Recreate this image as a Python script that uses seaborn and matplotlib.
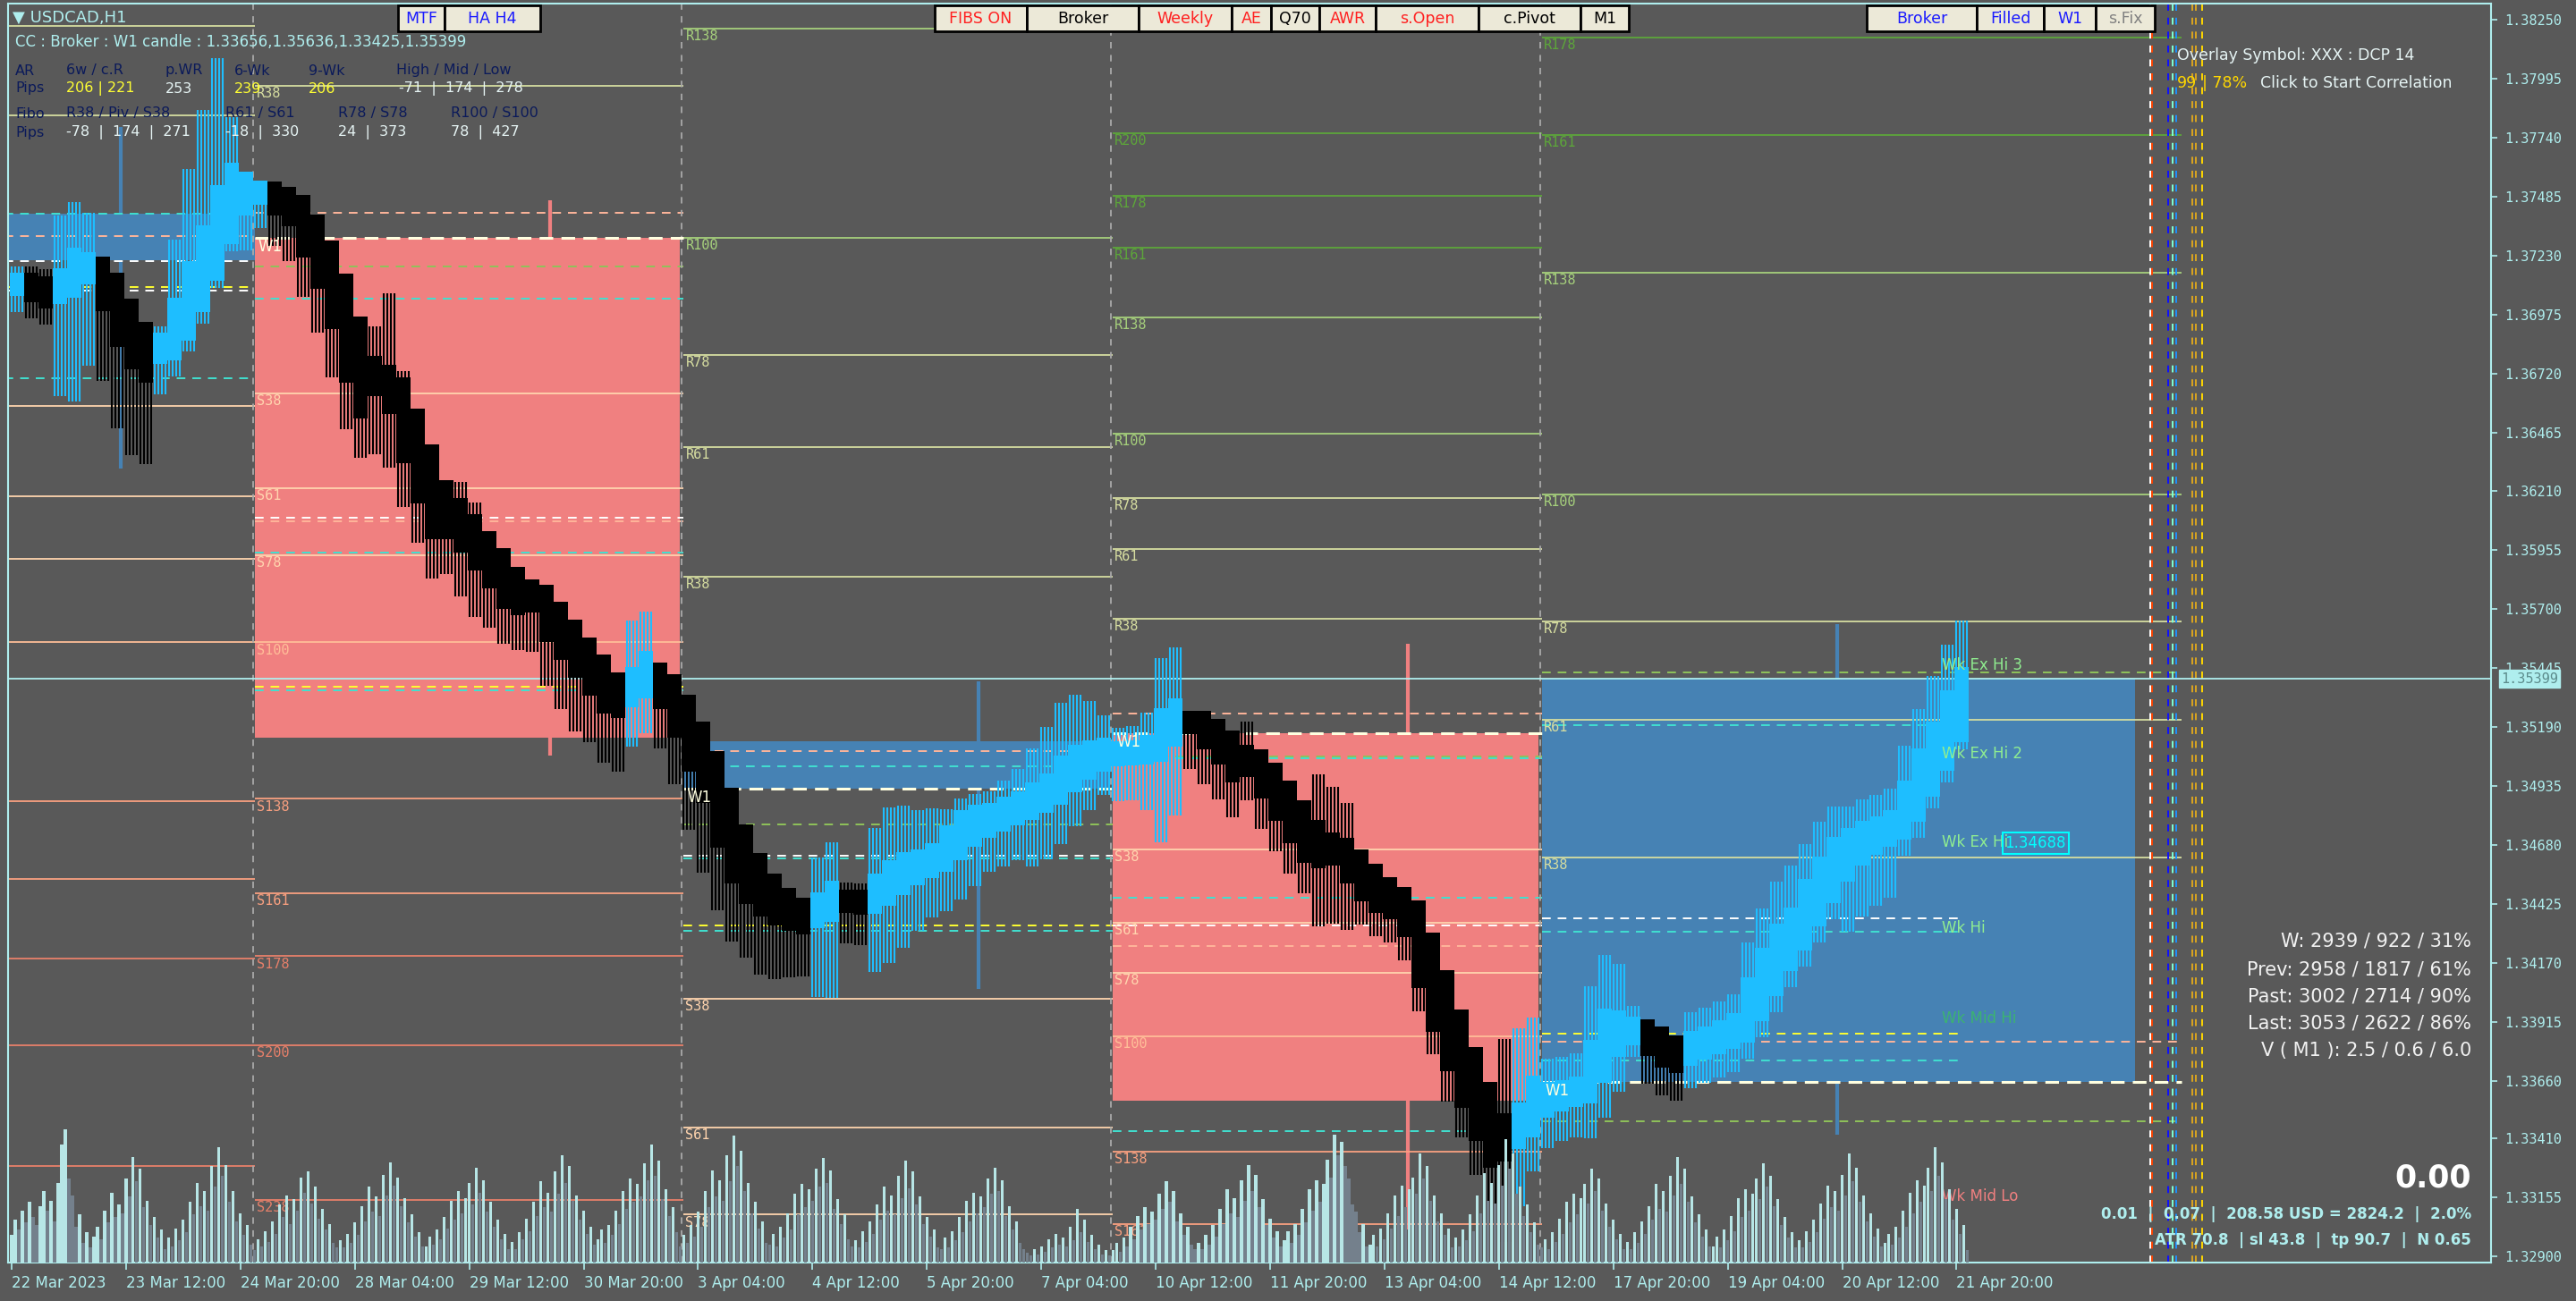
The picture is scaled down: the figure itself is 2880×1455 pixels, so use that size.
import numpy as np
import pandas as pd
import seaborn as sns
import matplotlib.pyplot as plt
import matplotlib.transforms as mtrans
from matplotlib.patches import Rectangle

W, H = 2880, 1455
BG = '#595959'
AXC = '#AFEEEE'
BULL = '#1EBEFF'
BEAR = '#000000'

# ---------------- data ----------------
# H4 closes (USDCAD), first bar 22 Mar 2023 04:00
close_pre = [1.37104, 1.37077, 1.37050, 1.37124, 1.37213, 1.37193, 1.37039, 1.36884, 1.36787,
             1.36729, 1.36845, 1.36999, 1.37155, 1.37309, 1.37484, 1.37580, 1.37542]
close_w1 = [1.37503, 1.37453, 1.37406, 1.37271, 1.37135, 1.36961, 1.36729, 1.36574, 1.36671, 1.36594,
            1.36381, 1.36207, 1.36052, 1.36052, 1.35994, 1.35916, 1.35839, 1.35750, 1.35723, 1.35734,
            1.35607, 1.35529, 1.35452, 1.35375, 1.35297, 1.35278, 1.35401, 1.35471, 1.35316, 1.35193]
close_w2 = [1.35046, 1.34910, 1.34717, 1.34562, 1.34473, 1.34419, 1.34380, 1.34357, 1.34341, 1.34426,
            1.34473, 1.34434, 1.34426, 1.34504, 1.34562, 1.34600, 1.34612, 1.34639, 1.34716, 1.34782,
            1.34802, 1.34813, 1.34840, 1.34860, 1.34899, 1.34941, 1.35015, 1.35061, 1.35084, 1.35092]
close_w3 = [1.35077, 1.35084, 1.35104, 1.35220, 1.35266, 1.35208, 1.35142, 1.35077, 1.34999, 1.35022,
            1.34930, 1.34833, 1.34736, 1.34651, 1.34628, 1.34639, 1.34562, 1.34484, 1.34434, 1.34407,
            1.34330, 1.34109, 1.33923, 1.33749, 1.33594, 1.33451, 1.33335, 1.33362, 1.33517, 1.33633]
close_w4 = [1.33606, 1.33614, 1.33629, 1.33788, 1.33923, 1.33915, 1.33885, 1.33815, 1.33768, 1.33745,
            1.33826, 1.33846, 1.33873, 1.33904, 1.34059, 1.34186, 1.34291, 1.34360, 1.34484, 1.34581,
            1.34666, 1.34705, 1.34736, 1.34755, 1.34782, 1.34910, 1.35046, 1.35162, 1.35297, 1.35399]

# wick extension beyond the body, in pips
wick_up = ([8, 8, 8, 28, 25, 22, 5, 5, 5, 5, 8, 30, 45, 55, 60, 25, 5]
           + [5, 5, 5, 5, 5, 5, 5, 5, 18, 36, 8, 5, 5, 5, 12, 10, 5, 5, 5, 5, 5, 5, 5, 5, 5, 5, 25, 22, 5, 5]
           + [5, 5, 5, 5, 5, 5, 5, 5, 5, 20, 22, 8, 8, 25, 28, 25, 22, 20, 12, 10, 10, 10, 12, 15, 20, 25, 28, 27, 22, 15]
           + [11, 11, 15, 27, 27, 5, 5, 5, 5, 15, 5, 5, 5, 5, 25, 25, 20, 5, 5, 5, 5, 5, 5, 5, 5, 5, 5, 37, 37, 30]
           + [15, 15, 15, 28, 28, 25, 10, 5, 5, 5, 13, 13, 13, 13, 20, 22, 23, 23, 20, 20, 18, 14, 14, 14, 14, 20, 22, 25, 25, 25])
wick_dn = ([12, 12, 12, 45, 50, 40, 35, 40, 42, 40, 18, 12, 10, 10, 8, 8, 20]
           + [15, 18, 20, 22, 24, 26, 25, 22, 30, 28, 24, 22, 22, 20, 24, 25, 22, 20, 20, 22, 24, 26, 28, 25, 26, 28, 22, 20, 22, 25]
           + [30, 35, 32, 30, 28, 30, 28, 25, 23, 35, 38, 18, 18, 30, 30, 28, 25, 22, 22, 22, 22, 20, 20, 20, 25, 25, 22, 20, 18, 15]
           + [20, 20, 25, 40, 35, 20, 20, 20, 20, 15, 18, 18, 18, 18, 30, 30, 25, 15, 15, 15, 15, 15, 15, 18, 18, 20, 30, 40, 30, 20]
           + [18, 18, 18, 20, 20, 20, 10, 17, 17, 17, 15, 15, 15, 15, 12, 12, 12, 12, 12, 12, 12, 27, 27, 27, 27, 12, 12, 10, 10, 8])

# hourly tick volume, one list per trading day
vol_days = [
    [20, 31, 24, 38, 29, 44, 33, 27, 41, 52, 38, 45, 30, 58, 86, 97, 61, 49, 26, 35],
    [14, 22, 11, 19, 26, 17, 38, 29, 51, 33, 42, 36, 61, 48, 77, 59, 68, 40, 45, 27, 33, 18, 24, 10],
    [18, 12, 25, 16, 31, 22, 44, 35, 58, 41, 52, 38, 70, 55, 84, 63, 71, 44, 52, 30, 36, 20, 27, 13],
    [9, 17, 12, 23, 15, 30, 21, 42, 33, 49, 28, 46, 38, 62, 51, 66, 43, 55, 32, 39, 24, 28, 14, 11],
    [16, 11, 21, 14, 29, 20, 41, 30, 55, 37, 48, 34, 64, 49, 73, 56, 62, 41, 47, 29, 35, 19, 22, 12],
    [12, 19, 13, 24, 17, 33, 25, 45, 31, 52, 36, 47, 58, 42, 69, 51, 60, 37, 44, 26, 31, 17, 21, 10],
    [15, 10, 22, 17, 32, 23, 44, 34, 59, 40, 51, 37, 66, 50, 78, 58, 70, 45, 49, 31, 38, 21, 26, 13],
    [17, 24, 14, 27, 20, 38, 28, 52, 39, 61, 44, 57, 48, 72, 60, 86, 63, 74, 46, 53, 34, 40, 22, 12],
    [20, 14, 27, 19, 37, 26, 52, 40, 67, 48, 60, 45, 78, 59, 92, 70, 81, 52, 58, 36, 44, 25, 30, 14],
    [13, 21, 12, 26, 18, 36, 24, 50, 35, 57, 40, 53, 45, 68, 55, 76, 58, 67, 39, 46, 28, 35, 17, 12],
    [16, 11, 23, 15, 30, 21, 42, 31, 55, 38, 49, 35, 63, 47, 74, 54, 66, 42, 48, 28, 33, 19, 24, 11],
    [10, 18, 11, 23, 16, 33, 22, 45, 30, 51, 36, 48, 40, 61, 50, 69, 52, 60, 34, 41, 24, 30, 14, 10],
    [7, 5, 10, 6, 12, 8, 17, 11, 21, 13, 18, 12, 26, 16, 39, 22, 31, 15, 20, 10, 13, 6, 9, 5],
    [9, 14, 8, 18, 12, 26, 17, 34, 24, 40, 28, 37, 31, 50, 39, 59, 44, 52, 30, 36, 20, 26, 13, 10],
    [14, 10, 20, 13, 27, 19, 39, 28, 53, 36, 47, 33, 60, 45, 71, 52, 64, 40, 46, 27, 32, 18, 23, 12],
    [16, 23, 14, 28, 20, 39, 29, 53, 38, 60, 44, 57, 75, 62, 93, 78, 88, 70, 61, 42, 37, 22, 28, 12],
    [13, 20, 12, 25, 17, 36, 25, 49, 34, 56, 40, 53, 62, 50, 79, 61, 70, 45, 49, 30, 36, 20, 25, 11],
    [18, 12, 24, 16, 35, 23, 49, 36, 65, 45, 58, 43, 71, 56, 90, 68, 79, 50, 55, 34, 42, 22, 29, 13],
    [11, 17, 10, 22, 15, 32, 21, 44, 29, 50, 35, 47, 57, 43, 68, 52, 61, 38, 43, 26, 31, 17, 21, 10],
    [15, 10, 22, 14, 30, 21, 41, 31, 57, 39, 52, 37, 63, 49, 77, 57, 68, 44, 48, 29, 35, 19, 24, 12],
    [12, 19, 11, 24, 16, 34, 23, 47, 33, 53, 38, 50, 61, 46, 72, 55, 63, 41, 46, 27, 33, 18, 22, 11],
    [16, 11, 23, 15, 31, 22, 43, 32, 56, 40, 52, 38, 64, 49, 79, 59, 69, 44, 49, 30, 36, 19, 25, 12],
    [14, 21, 13, 26, 18, 38, 26, 51, 36, 60, 44, 56, 69, 52, 84, 63, 73, 46, 53, 31, 39, 21, 27, 9],
]

time_labels = ['22 Mar 2023', '23 Mar 12:00', '24 Mar 20:00', '28 Mar 04:00', '29 Mar 12:00',
               '30 Mar 20:00', '3 Apr 04:00', '4 Apr 12:00', '5 Apr 20:00', '7 Apr 04:00',
               '10 Apr 12:00', '11 Apr 20:00', '13 Apr 04:00', '14 Apr 12:00', '17 Apr 20:00',
               '19 Apr 04:00', '20 Apr 12:00', '21 Apr 20:00']
price_ticks = [1.38250, 1.37995, 1.37740, 1.37485, 1.37230, 1.36975, 1.36720, 1.36465, 1.36210,
               1.35955, 1.35700, 1.35445, 1.35190, 1.34935, 1.34680, 1.34425, 1.34170, 1.33915,
               1.33660, 1.33410, 1.33155, 1.32900]
last_price = 1.35399

# weekly candles (bars from first H1 bar)
week_start = [-52, 68, 188, 308, 428]
week_box_end = [68, 187, 307, 427, 594]
week_box_lo = [1.37209, 1.35142, 1.34925, 1.33575, 1.33656]
week_box_hi = [1.37410, 1.37306, 1.35127, 1.35162, 1.35399]
week_bull = [True, False, True, False, True]
week_high = [1.37785, 1.37468, 1.35386, 1.35549, 1.35636]
week_low = [1.36307, 1.35065, 1.34055, 1.33017, 1.33425]
level_span = [(-2, 68), (68, 188), (188, 308), (308, 428), (428, 607)]

# fibo pivot levels per week
lv_pre = [1.38223, 1.37836, 1.36578, 1.36187, 1.35916, 1.35556, 1.34871, 1.34531, 1.34190, 1.33815, 1.33289]
lv_pre_names = ['R78', 'R38', 'S38', 'S61', 'S78', 'S100', 'S138', 'S161', 'S178', 'S200', 'S238']
lv_w1_names = ['R38', 'S38', 'S61', 'S78', 'S100', 'S138', 'S161', 'S178', 'S200', 'S238']
lv_w1 = [1.37963, 1.36632, 1.36222, 1.35932, 1.35556, 1.34879, 1.34469, 1.34198, 1.33815, 1.33145]
lv_w2_names = ['R138', 'R100', 'R78', 'R61', 'R38', 'S38', 'S61', 'S78']
lv_w2 = [1.38211, 1.37306, 1.36799, 1.36400, 1.35839, 1.34016, 1.33459, 1.33080]
lv_w3_names = ['R238', 'R200', 'R178', 'R161', 'R138', 'R100', 'R78', 'R61', 'R38',
               'S38', 'S61', 'S78', 'S100', 'S138', 'S161']
lv_w3 = [1.38265, 1.37758, 1.37487, 1.37263, 1.36961, 1.36458, 1.36179, 1.35959, 1.35657,
         1.34659, 1.34345, 1.34128, 1.33850, 1.33351, 1.33041]
lv_w4_names = ['R178', 'R161', 'R138', 'R100', 'R78', 'R61', 'R38']
lv_w4 = [1.38172, 1.37751, 1.37155, 1.36195, 1.35645, 1.35220, 1.34624]

# dashed indicator levels per week (price, kind)
dash_pre = [(1.37410, 'cyan'), (1.37313, 'peach'), (1.37205, 'white'), (1.37093, 'yellow'),
            (1.37077, 'white'), (1.36698, 'cyan')]
dash_w1 = [(1.37414, 'peach'), (1.37182, 'green'), (1.37042, 'cyan'), (1.36094, 'white'),
           (1.36079, 'peach'), (1.35943, 'cyan'), (1.35363, 'yellow'), (1.35347, 'cyan')]
dash_w2 = [(1.35084, 'peach'), (1.35022, 'cyan'), (1.34767, 'green'), (1.34635, 'white'),
           (1.34620, 'cyan'), (1.34333, 'yellow'), (1.34310, 'cyan')]
dash_w3 = [(1.35247, 'peach'), (1.35061, 'green'), (1.35053, 'cyan'), (1.34453, 'cyan'),
           (1.34330, 'white'), (1.34244, 'peach'), (1.33440, 'cyan')]
dash_w4 = [(1.35197, 'cyan'), (1.34361, 'white'), (1.34306, 'cyan'), (1.33865, 'yellow'), (1.33749, 'cyan')]
dash_w4_long = [(1.35425, 'green'), (1.33827, 'peach'), (1.33486, 'green')]

wk_marks = [('Wk Ex Hi 3', 1.35456, '#90EE90'), ('Wk Ex Hi 2', 1.35073, '#90EE90'),
            ('Wk Ex Hi', 1.34693, '#90EE90'), ('Wk Hi', 1.34318, '#90EE90'),
            ('Wk Mid Hi', 1.33931, '#3CB371'), ('Wk Mid Lo', 1.33161, '#F08080')]

# session markers at the right (bar positions)
vmark_bars = [598.3, 598.8, 603.3, 604.5, 605.5, 610.0, 611.0, 612.7]
vmark_colors = ['#FFFFFF', '#FF4500', '#1010FF', '#7FFFD4', '#1E90FF', '#DAA520', '#DAA520', '#FFD700']

dash_colors = {'cyan': '#40E0D0', 'peach': '#FFB59A', 'white': '#FFFFFF', 'yellow': '#FFFF30',
               'green': '#8FC25A'}


def lvl_color(name):
    n = int(name[1:])
    if name[0] == 'R':
        return '#D6DDA0' if n < 100 else ('#A6D07C' if n < 150 else '#5DA63A')
    return '#FFD4AE' if n < 100 else ('#FFBE98' if n == 100 else ('#F9A080' if n < 170 else '#E8806A'))


# ---------------- figure ----------------
sns.set_theme(style='dark', rc={'axes.facecolor': BG, 'figure.facecolor': BG})
plt.rcParams['font.family'] = ['DejaVu Sans']

fig = plt.figure(figsize=(W / 100, H / 100), dpi=100)
ax = fig.add_axes([9 / W, 43 / H, (2785 - 9) / W, (1412 - 4) / H])
ax.set_facecolor(BG)
ax.set_xlim(-1, 693.5)
ax.set_ylim(1.32873, 1.38320)

# weekly candle boxes + wicks
for s, e, lo, hi, bull, wh, wl in zip(week_start, week_box_end, week_box_lo, week_box_hi,
                                      week_bull, week_high, week_low):
    col = '#4682B4' if bull else '#F08080'
    ax.vlines(s + 82.5, wl, wh, color=col, lw=3, zorder=0.9)
    ax.add_patch(Rectangle((s, lo), e - s, hi - lo, facecolor=col, edgecolor='none', zorder=1))

# pivot levels
all_levels = [(lv_pre_names, lv_pre), (lv_w1_names, lv_w1), (lv_w2_names, lv_w2),
              (lv_w3_names, lv_w3), (lv_w4_names, lv_w4)]
for (names, prices), (s, e) in zip(all_levels, level_span):
    for nm, p in zip(names, prices):
        c = lvl_color(nm)
        ax.hlines(p, s, e, color=c, lw=1.3, zorder=2)
        if s > 0:
            ax.text(s + 0.5, p - 0.00004, nm, color=c, fontsize=11, va='top', ha='left', zorder=6,
                    family=['DejaVu Sans Mono'])

# dashed levels
dash_groups = [dash_pre, dash_w1, dash_w2, dash_w3, dash_w4]
for grp, (s, e) in zip(dash_groups, level_span):
    e2 = 546 if s == 428 else e
    for p, kind in grp:
        ax.hlines(p, s, e2, color=dash_colors[kind], lw=1.4, linestyles=(0, (5, 4)), zorder=2)
for p, kind in dash_w4_long:
    ax.hlines(p, 428, 607, color=dash_colors[kind], lw=1.4, linestyles=(0, (5, 4)), zorder=2)

# weekly open lines + W1 labels
for i, (s, e) in enumerate(level_span[1:], start=1):
    wo = week_box_lo[i] if week_bull[i] else week_box_hi[i]
    ax.hlines(wo, s, e, color='#FFFFE0', lw=2.2, linestyles=(0, (5, 3)), zorder=2.5)
    ax.text(s + 1, wo - 0.00004, 'W1', color='#FFFFE0', fontsize=12, va='top', ha='left', zorder=6)

# week separators
for s in week_start[1:]:
    ax.axvline(s - 0.5, color='#A9A9A9', lw=1.3, ls=(0, (4, 4)), zorder=2)
for xb, c in zip(vmark_bars, vmark_colors):
    ax.axvline(xb, color=c, lw=1.4, ls=(0, (4, 4)), zorder=2)

ax.axhline(last_price, color=AXC, lw=1.3, zorder=3)

# Heiken Ashi H4 candles
close = np.array(close_pre + close_w1 + close_w2 + close_w3 + close_w4)
n = len(close)
ha_open = np.empty(n)
ha_open[0] = close[0]
for k in range(1, n):
    ha_open[k] = (ha_open[k - 1] + close[k - 1]) / 2
top = np.maximum(ha_open, close)
bot = np.minimum(ha_open, close)
bull = close >= ha_open
cols = np.where(bull, BULL, BEAR)
hi = top + np.array(wick_up) * 0.0001
lo = bot - np.array(wick_dn) * 0.0001
pad = 0.0005  # drawn body thickness like the terminal's thick HA pen
base = 4 * np.arange(n)
for off in (0.0, 1.0, 2.0, 3.0):
    ax.vlines(base + off, lo, hi, colors=cols, lw=1.5, zorder=4)
ax.bar(base + 1.5, top - bot + 2 * pad, bottom=bot - pad, width=4.0, color=cols, linewidth=0, zorder=5)

# Wk labels
for txt, p, c in wk_marks:
    ax.text(540, p, txt, color=c, fontsize=12, va='center', ha='left', zorder=6)
ax.text(557.5, 1.34688, '1.34688', color='#00FFFF', fontsize=12, va='center', ha='left', zorder=6,
        bbox=dict(facecolor='none', edgecolor='#00FFFF', lw=1.5, pad=2))

# axes styling
for sp in ax.spines.values():
    sp.set_color(AXC)
    sp.set_linewidth(1.5)
ax.yaxis.tick_right()
ax.set_yticks(price_ticks, [f'{v:.5f}' for v in price_ticks])
ax.set_xticks(np.arange(len(time_labels)) * 32, time_labels)
ax.tick_params(axis='y', colors=AXC, length=5, width=1.2, pad=6, labelsize=11, direction='out', right=True)
ax.tick_params(axis='x', colors=AXC, length=6, width=1.2, pad=4, labelsize=12, direction='out', bottom=True)
for lab in ax.get_yticklabels():
    lab.set_family('DejaVu Sans Mono')
for lab in ax.get_xticklabels():
    lab.set_ha('left')
    lab.set_family(['Liberation Sans Narrow', 'DejaVu Sans'])
ax.grid(False)

tr = mtrans.blended_transform_factory(ax.transAxes, ax.transData)
ax.text(1.004, last_price, f'{last_price:.5f}', transform=tr, color='#5C8C8C', fontsize=11,
        family='DejaVu Sans Mono', va='center', ha='left', zorder=7,
        bbox=dict(facecolor=AXC, edgecolor=AXC, pad=1.5))

# volumes
vol = np.array(sum(vol_days, []))
vdf = pd.DataFrame({'bar': np.arange(len(vol)), 'vol': vol})
vdf['dir'] = np.where(vdf['vol'].diff().fillna(0) >= 0, 'up', 'down')
vax = fig.add_axes([9 / W, 43 / H, (2785 - 9) / W, 160 / H])
vax.patch.set_alpha(0)
sns.barplot(data=vdf, x='bar', y='vol', hue='dir', palette={'up': AXC, 'down': '#708090'},
            native_scale=True, dodge=False, width=0.8, errorbar=None, legend=False,
            linewidth=0, ax=vax)
vax.set_xlim(ax.get_xlim())
vax.set_ylim(0, 104)
vax.axis('off')


# ---------------- text overlays ----------------
def ftext(x, y, s, **kw):
    fig.text(x / W, 1 - y / H, s, va='center', **kw)


ftext(14, 20, '▼ USDCAD,H1', color=AXC, fontsize=13)
ftext(17, 47, 'CC : Broker : W1 candle : 1.33656,1.35636,1.33425,1.35399', color=AXC, fontsize=12)
NAVY = '#0B1A5A'
LIGHT = '#E6F4F4'
YEL = '#FFFF33'
for x, s in [(17, 'AR'), (74, '6w / c.R'), (185, 'p.WR'), (262, '6-Wk'), (345, '9-Wk'), (443, 'High / Mid / Low')]:
    ftext(x, 79, s, color=NAVY, fontsize=11.5)
for x, s, c in [(17, 'Pips', NAVY), (74, '206 | 221', YEL), (185, '253', LIGHT), (262, '239', YEL),
                (345, '206', YEL), (446, '-71  |  174  |  278', LIGHT)]:
    ftext(x, 99, s, color=c, fontsize=11.5)
for x, s in [(17, 'Fibo'), (74, 'R38 / Piv / S38'), (252, 'R61 / S61'), (378, 'R78 / S78'), (504, 'R100 / S100')]:
    ftext(x, 127, s, color=NAVY, fontsize=11.5)
for x, s, c in [(17, 'Pips', NAVY), (74, '-78  |  174  |  271', LIGHT), (252, '-18  |  330', LIGHT),
                (378, '24  |  373', LIGHT), (504, '78  |  427', LIGHT)]:
    ftext(x, 148, s, color=c, fontsize=11.5)

ftext(2434, 62, 'Overlay Symbol: XXX : DCP 14', color='#E6F4F4', fontsize=12.5)
ftext(2434, 93, '99', color='#FFD700', fontsize=12.5)
ftext(2462, 93, '| 78%', color='#FFD700', fontsize=12.5)
ftext(2527, 93, 'Click to Start Correlation', color='#E6F4F4', fontsize=12.5)

for y, s in [(1053, 'W: 2939 / 922 / 31%'), (1084, 'Prev: 2958 / 1817 / 61%'),
             (1115, 'Past: 3002 / 2714 / 90%'), (1145, 'Last: 3053 / 2622 / 86%'),
             (1175, 'V ( M1 ): 2.5 / 0.6 / 6.0')]:
    ftext(2763, y, s, color='#F2F2F2', fontsize=15, ha='right')
ftext(2763, 1318, '0.00', color='#FFFFFF', fontsize=25, fontweight='bold', ha='right')
ftext(2763, 1358, '0.01  |  0.07  |  208.58 USD = 2824.2  |  2.0%', color=AXC, fontsize=12,
      fontweight='bold', ha='right')
ftext(2763, 1387, 'ATR 70.8  | sl 43.8  |  tp 90.7  |  N 0.65', color=AXC, fontsize=12,
      fontweight='bold', ha='right')

# buttons
BLUE_T, RED_T, BLK_T, GRY_T = '#1A1AFF', '#FF2020', '#000000', '#808080'
buttons = [('MTF', 445, 497, BLUE_T), ('HA H4', 497, 604, BLUE_T), ('FIBS ON', 1045, 1148, RED_T),
           ('Broker', 1148, 1273, BLK_T), ('Weekly', 1273, 1377, RED_T), ('AE', 1377, 1421, RED_T),
           ('Q70', 1421, 1475, BLK_T), ('AWR', 1475, 1538, RED_T), ('s.Open', 1538, 1653, RED_T),
           ('c.Pivot', 1653, 1767, BLK_T), ('M1', 1767, 1821, BLK_T), ('Broker', 2087, 2210, BLUE_T),
           ('Filled', 2210, 2285, BLUE_T), ('W1', 2285, 2343, BLUE_T), ('s.Fix', 2343, 2409, GRY_T)]
for txt, x0, x1, c in buttons:
    fig.patches.append(Rectangle((x0 / W, 1 - 35 / H), (x1 - x0) / W, 29 / H, transform=fig.transFigure,
                                 facecolor='#ECE9D8', edgecolor='#000000', lw=2, zorder=10))
    fig.text((x0 + x1) / 2 / W, 1 - 21 / H, txt, color=c, fontsize=12.5, ha='center', va='center', zorder=11)

fig.savefig('out.png', dpi=100, facecolor=BG)
